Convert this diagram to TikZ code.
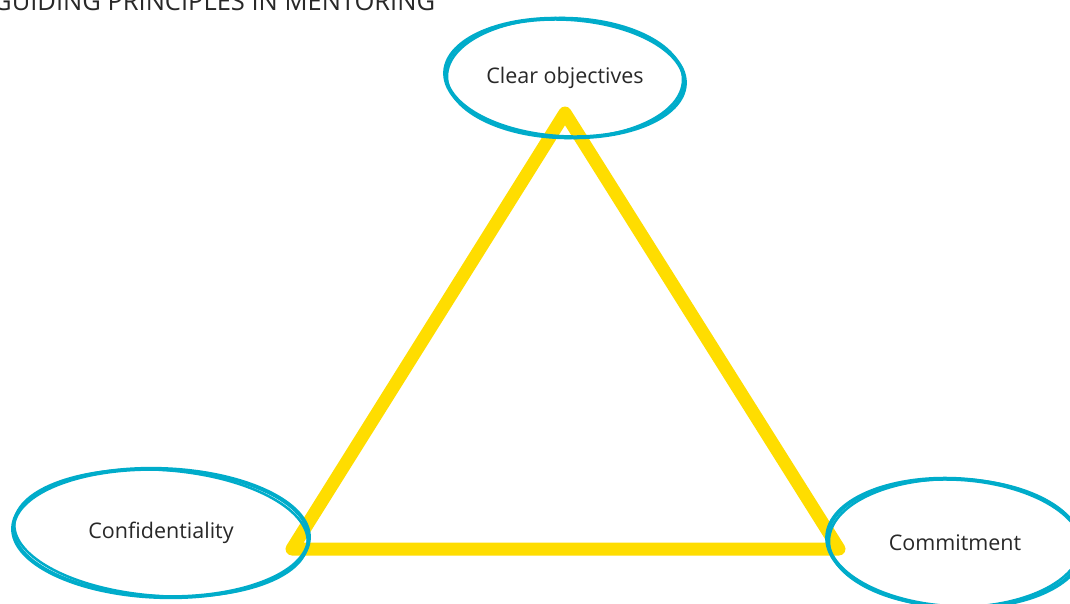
\documentclass[tikz,border=0pt]{standalone}
\usepackage{fontspec}
\setmainfont{Open Sans}
\usetikzlibrary{shapes.geometric}
\definecolor{tri}{RGB}{255,221,0}
\definecolor{ring}{RGB}{0,172,202}
\definecolor{ink}{RGB}{40,40,40}
\begin{document}
\begin{tikzpicture}[x=1pt,y=-1pt,
  side/.style={draw=tri,line width=13pt,line cap=round,line join=round},
  bubble/.style={ellipse,inner sep=0pt,text=ink,font=\fontsize{21.5}{25}\selectfont},
  stroke1/.style={draw=ring,line width=4pt},
  stroke2/.style={draw=ring,line width=2.5pt},
  title/.style={text=ink,font=\fontsize{25.5}{30}\selectfont,inner sep=0pt}]
\useasboundingbox (0,0) rectangle (1070,603);
\clip (0,0) rectangle (1070,603);
\fill[white] (0,0) rectangle (1070,603);
\node[title,anchor=base west] (ttl) at (-7,10) {GUIDING PRINCIPLES IN MENTORING};
\coordinate (A) at (565,113);
\coordinate (B) at (292,549);
\coordinate (C) at (839,549);
\draw[side] (A) -- (B) -- (C) -- cycle;
\node[bubble,minimum width=240pt,minimum height=120pt] (top) at (565,78) {Clear objectives};
\draw[stroke1,rotate around={-3:(top.center)}] (top.center) ellipse [x radius=120pt,y radius=59pt];
\draw[stroke2,rotate around={-1:(top.center)}] (top.center) ellipse [x radius=118pt,y radius=60pt];
\node[bubble,minimum width=296pt,minimum height=128pt] (left) at (161,533) {Confidentiality};
\draw[stroke1,rotate around={-2:(left.center)}] (left.center) ellipse [x radius=148pt,y radius=64pt];
\draw[stroke2,rotate around={-4:(left.center)}] (left.center) ellipse [x radius=147pt,y radius=63pt];
\node[bubble,minimum width=250pt,minimum height=128pt] (right) at (955,543) {Commitment};
\draw[stroke1,rotate around={-3:(right.center)}] (right.center) ellipse [x radius=128pt,y radius=64pt];
\draw[stroke2,rotate around={-1:(right.center)}] (right.center) ellipse [x radius=126pt,y radius=64pt];
\end{tikzpicture}
\end{document}
